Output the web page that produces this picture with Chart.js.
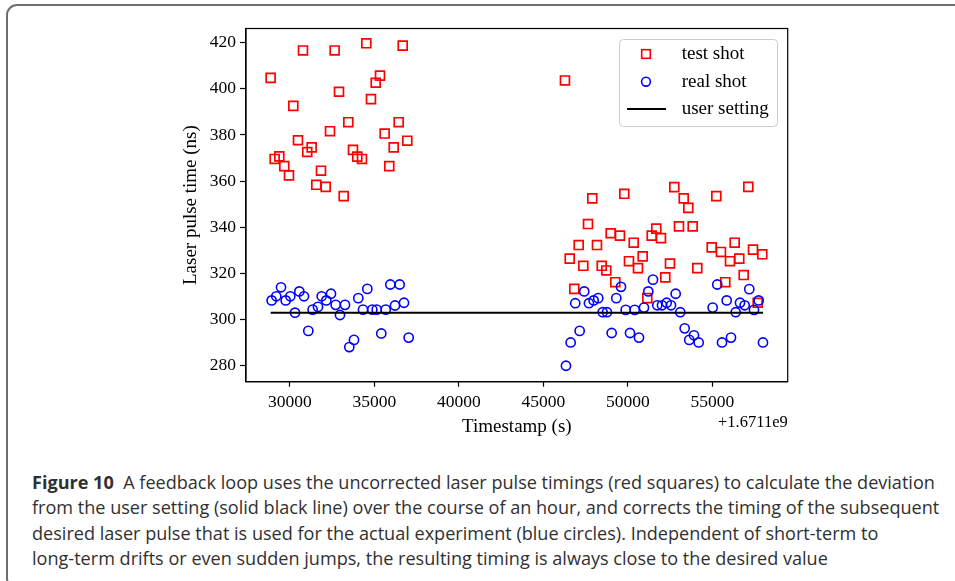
<!DOCTYPE html>
<html><head><meta charset="utf-8">
<script src="https://cdn.jsdelivr.net/npm/chart.js@4.4.1/dist/chart.umd.min.js"></script>
<style>
html,body{margin:0;padding:0;background:#fff;width:955px;height:581px;overflow:hidden;position:relative}
#frame{position:absolute;left:6px;top:4px;width:985px;height:585px;border:2px solid #6e6e6e;border-radius:11px;box-sizing:border-box}
#wrap{position:absolute;left:0;top:0;width:955px;height:445px}
#cap{position:absolute;left:32px;top:470px;font-family:"Open Sans",sans-serif;color:#303030;line-height:25.3px;white-space:nowrap;font-size:16px}
#cap span{display:block}
</style></head><body>
<div id="frame"></div>
<div id="wrap"><canvas id="c" width="955" height="445"></canvas></div>
<div id="cap">
<span id="l1"><b>Figure 10</b>&nbsp; A feedback loop uses the uncorrected laser pulse timings (red squares) to calculate the deviation</span>
<span>from the user setting (solid black line) over the course of an hour, and corrects the timing of the subsequent</span>
<span>desired laser pulse that is used for the actual experiment (blue circles). Independent of short-term to</span>
<span>long-term drifts or even sudden jumps, the resulting timing is always close to the desired value</span>
</div>
<script>
const testX = [28858,30772,32645,34518,36671,30200,35328,35073,32903,34794,33453,36434,32370,35605,36944,30476,31284,31024,33730,36139,29370,29096,33984,34262,29665,35878,29944,31837,31559,32115,33180,
  46271,
  47888,49782,52741,53297,53569,55226,57119,47634,48977,49527,50338,51403,51675,51953,53018,53828,47083,48166,54952,55502,56313,57396,57946,46552,47357,48446,48718,50059,50870,50592,52485,54101,56035,56585,49249,52207,55758,56846,46823,51143,57674];
const testY = [404.7,416.6,416.6,419.7,418.7,392.6,405.7,402.6,398.7,395.5,385.5,385.5,381.6,380.6,377.5,377.7,374.6,372.6,373.5,374.6,370.7,369.6,370.6,369.6,366.5,366.5,362.5,364.5,358.4,357.5,353.5,
  403.6,
  352.5,354.5,357.4,352.5,348.4,353.5,357.5,341.4,337.4,336.4,333.3,336.4,339.4,335.3,340.4,340.4,332.3,332.3,331.3,329.3,333.3,330.3,328.3,326.4,323.3,323.3,321.3,325.3,327.4,322.3,324.3,322.3,325.3,326.4,316.2,318.3,316.2,319.3,313.3,309.3,307.3];
const realX = [28917,29190,29470,29749,30021,30299,30555,30831,31087,31343,31660,31877,32152,32429,32706,32960,33257,33512,33790,34044,34322,34577,34873,35133,35405,35666,35938,36215,36493,36747,37025,
  46331,46608,47141,46880,47413,47691,47969,48241,48502,48757,49035,49309,49587,49864,50119,50397,50651,50947,51201,51479,51734,52012,52290,52545,52823,53095,53355,53627,53905,54183,55011,55283,55562,55840,56094,56372,56627,56905,57177,57455,57733,57987];
const realY = [308.3,310.1,314.0,308.3,310.1,303.0,312.2,310.1,295.1,304.3,305.5,310.1,308.3,311.2,306.4,302.0,306.4,288.1,291.2,309.3,304.3,313.3,304.3,304.3,294.0,304.3,315.2,306.1,315.2,307.3,292.2,
  280.0,290.1,295.1,307.1,312.2,307.1,308.3,309.3,303.2,303.2,294.2,309.3,314.2,304.2,294.2,304.2,292.2,305.2,312.2,317.3,306.2,306.2,307.3,306.2,311.2,303.2,296.2,291.2,293.2,290.1,305.2,315.2,290.1,308.3,292.2,303.2,307.3,306.2,313.2,304.2,308.3,290.1];
const settingX = [28860, 57990];
const settingY = [303, 303];
const xTicks = [30000, 35000, 40000, 45000, 50000, 55000];
const yTicks = [280, 300, 320, 340, 360, 380, 400, 420];
const seriesNames = ['test shot', 'real shot', 'user setting'];
const xTitle = 'Timestamp (s)';
const yTitle = 'Laser pulse time (ns)';
const offsetText = '+1.6711e9';

const SERIF = '"Liberation Serif", "Times New Roman", serif';
const zip = (xs, ys) => xs.map((x, i) => ({x, y: ys[i]}));

const frameBox = {
  id: 'frameBox',
  afterDraw(chart) {
    const {ctx, chartArea: a} = chart;
    ctx.save();
    ctx.strokeStyle = '#000';
    ctx.lineWidth = 1.2;
    ctx.strokeRect(a.left, a.top, a.right - a.left, a.bottom - a.top);
    // offset text
    ctx.fillStyle = '#000';
    ctx.font = '16.5px ' + SERIF;
    ctx.textAlign = 'right';
    ctx.textBaseline = 'middle';
    ctx.fillText(offsetText, a.right, 423);
    // legend
    const lx = 619.5, ly = 39.5, lw = 158, lh = 87, r = 4;
    ctx.beginPath();
    ctx.roundRect(lx, ly, lw, lh, r);
    ctx.fillStyle = 'rgba(255,255,255,0.8)';
    ctx.fill();
    ctx.strokeStyle = '#cccccc';
    ctx.lineWidth = 1;
    ctx.stroke();
    const rows = [54, 81.7, 109];
    const mx = 646;
    ctx.lineWidth = 1.6;
    ctx.strokeStyle = '#ff0000';
    ctx.strokeRect(mx - 4.3, rows[0] - 4.3, 8.6, 8.6);
    ctx.strokeStyle = '#0000ff';
    ctx.beginPath(); ctx.arc(mx, rows[1], 4.4, 0, Math.PI * 2); ctx.stroke();
    ctx.strokeStyle = '#000';
    ctx.lineWidth = 2;
    ctx.beginPath(); ctx.moveTo(627, rows[2]); ctx.lineTo(666, rows[2]); ctx.stroke();
    ctx.fillStyle = '#000';
    ctx.font = '19px ' + SERIF;
    ctx.textAlign = 'left';
    ctx.textBaseline = 'middle';
    seriesNames.forEach((n, i) => ctx.fillText(n, 681.7, rows[i]));
    ctx.restore();
  }
};

new Chart(document.getElementById('c'), {
  type: 'scatter',
  data: {
    datasets: [
      {label: seriesNames[0], data: zip(testX, testY), pointStyle: 'rect', pointRadius: 6.3,
       borderColor: '#ff0000', backgroundColor: 'rgba(0,0,0,0)', borderWidth: 1.7, order: 3},
      {label: seriesNames[1], data: zip(realX, realY), pointStyle: 'circle', pointRadius: 4.6,
       borderColor: '#0000ff', backgroundColor: 'rgba(0,0,0,0)', borderWidth: 1.6, order: 2},
      {label: seriesNames[2], type: 'line', data: zip(settingX, settingY), showLine: true,
       pointRadius: 0, borderColor: '#000', borderWidth: 2, fill: false, order: 1}
    ]
  },
  options: {
    responsive: false,
    animation: false,
    events: [],
    layout: {padding: {left: 0, right: 955 - 787.7, top: 28.5, bottom: 0}},
    plugins: {legend: {display: false}, tooltip: {enabled: false}},
    scales: {
      x: {
        type: 'linear', position: 'bottom', min: 27400, max: 59450,
        afterBuildTicks: s => { s.ticks = xTicks.map(v => ({value: v})); },
        afterFit: s => { s.height = 445 - 381.7; },
        ticks: {callback: v => String(v), font: {family: SERIF, size: 17.5}, color: '#000', padding: 5, maxRotation: 0, autoSkip: false},
        grid: {display: true, drawOnChartArea: false, drawTicks: true, tickLength: 5, tickWidth: 1.2, tickColor: '#000'},
        border: {display: true, color: '#000', width: 1.2},
        title: {display: true, text: xTitle, font: {family: SERIF, size: 19}, color: '#000', padding: {top: 0, bottom: 7}}
      },
      y: {
        type: 'linear', position: 'left', min: 273.1, max: 426.1,
        afterBuildTicks: s => { s.ticks = yTicks.map(v => ({value: v})); },
        afterFit: s => { s.width = 246; },
        ticks: {font: {family: SERIF, size: 17.5}, color: '#000', padding: 4},
        grid: {display: true, drawOnChartArea: false, drawTicks: true, tickLength: 6, tickWidth: 1.2, tickColor: '#000'},
        border: {display: true, color: '#000', width: 1.2},
        title: {display: true, text: yTitle, font: {family: SERIF, size: 19}, color: '#000', padding: {top: 179.3, bottom: 0}}
      }
    }
  },
  plugins: [frameBox]
});

// fit caption font size so that the first line spans the same width as the reference
(function fitCaption(){
  const cap = document.getElementById('cap');
  const l1 = document.getElementById('l1');
  l1.style.display = 'inline-block';
  const w = l1.getBoundingClientRect().width;
  const size = 16 * 903 / w;
  cap.style.fontSize = size.toFixed(2) + 'px';
  l1.style.display = 'block';
})();
</script>
</body></html>
